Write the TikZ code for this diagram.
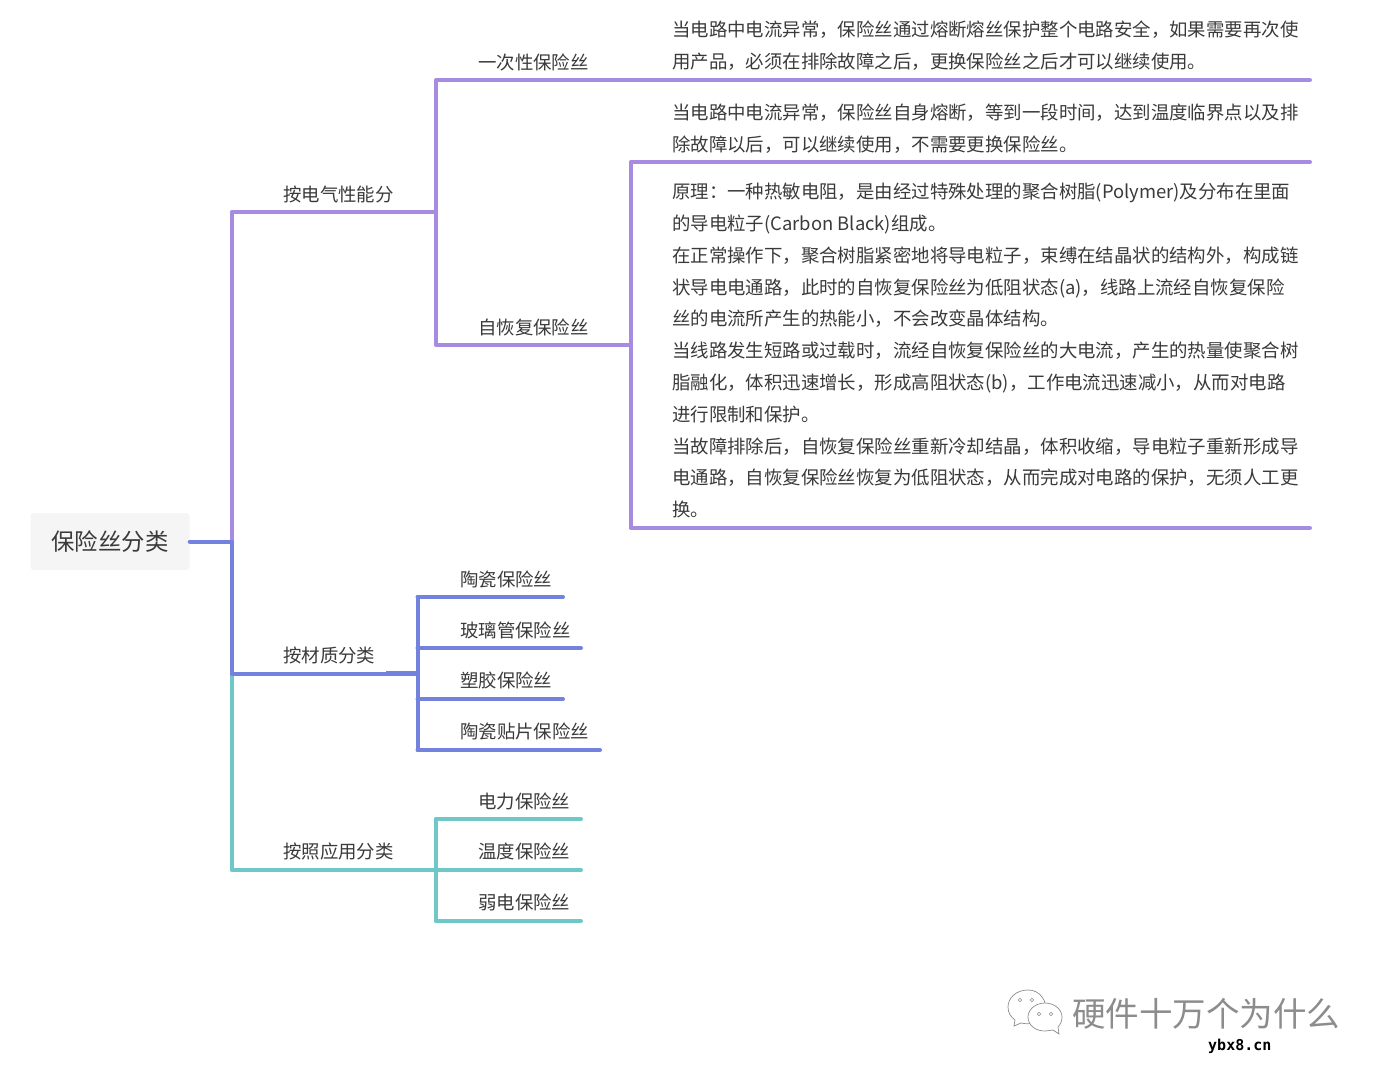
\documentclass[tikz,border=0pt]{standalone}
\usepackage{fontspec}
\setmainfont{Noto Sans CJK SC}
\newfontfamily\markfont{DejaVu Sans Mono}
\usetikzlibrary{positioning, calc}
\definecolor{textgray}{HTML}{3A3A3A}
\definecolor{lilac}{HTML}{A78BE0}
\definecolor{steel}{HTML}{7383DD}
\definecolor{teal}{HTML}{6FC7C7}
\tikzset{
	rootbox/.style={fill=black!4, rounded corners=3pt, minimum width=159pt, minimum height=57pt, inner sep=0pt, text=textgray, font=\fontsize{23.4}{28}\selectfont},
	label/.style={anchor=west, inner sep=0pt, text=textgray, font=\fontsize{18.42}{22}\selectfont},
	body/.style={anchor=west, inner sep=0pt, align=left, text=textgray, font=\fontsize{18.42}{31.8}\selectfont},
	branch/.style={line width=4pt, line cap=round, line join=round},
	bubble/.style={draw=black!45, fill=white, line width=0.7pt},
}

\begin{document}
\begin{tikzpicture}[x=1pt, y=-1pt]
	\useasboundingbox (0,0) rectangle (1387,1076);
	% tree points
	\node[rootbox] (root) at (110,541.5) {保险丝分类};
	\coordinate (hub) at (231.5,541.5);
	\coordinate (elec) at (436,212);
	\coordinate (mat) at (417.5,673.5);
	\coordinate (matstub) at (386,673.5);
	\coordinate (app) at (436,870);
	\coordinate (self) at (630.5,345);
	\coordinate (once) at (436,80);
	\coordinate (onceend) at (1310,80);
	\coordinate (selftop) at (630.5,162);
	\coordinate (selftopend) at (1310,162);
	\coordinate (selfbot) at (630.5,528);
	\coordinate (selfbotend) at (1310,528);

	% connectors, back to front
	\draw[branch, lilac] (hub) -- (hub |- elec) -- (elec);
	\draw[branch, teal] (hub |- mat) -- (hub |- app) -- (app);
	\draw[branch, steel] (root.east) -- (hub) -- (hub |- mat) -- (mat);
	\draw[branch, steel, line width=4.8pt, line cap=butt] (matstub) -- (mat);
	\draw[branch, lilac] (onceend) -- (once) -- (once |- self) -- (self);
	\draw[branch, lilac] (selftopend) -- (selftop) -- (selfbot) -- (selfbotend);

	\foreach \ypos/\xend in {597/563, 648/581, 699/563, 750/600}
		\draw[branch, steel] (mat |- 0,\ypos) -- (\xend,\ypos);
	\draw[branch, steel] (mat |- 0,597) -- (mat |- 0,750);
	\foreach \ypos in {819, 870, 921}
		\draw[branch, teal] (app |- 0,\ypos) -- (581,\ypos);
	\draw[branch, teal] (app |- 0,819) -- (app |- 0,921);

	% first level
	\node[label] (elecname) at (283,194) {按电气性能分};
	\node[label] (matname) at (283,655) {按材质分类};
	\node[label] (appname) at (283,851) {按照应用分类};

	% second level
	\node[label] (oncename) at (478,62) {一次性保险丝};
	\node[label] (selfname) at (478,327) {自恢复保险丝};
	\node[label] (ceramic) at (460,579) {陶瓷保险丝};
	\node[label] (glass) at (460,630) {玻璃管保险丝};
	\node[label] (plastic) at (460,680) {塑胶保险丝};
	\node[label] (smd) at (460,731) {陶瓷贴片保险丝};
	\node[label] (power) at (478,801) {电力保险丝};
	\node[label] (thermal) at (478,851) {温度保险丝};
	\node[label] (weak) at (478,902) {弱电保险丝};

	% long notes
	\node[body] (oncenote) at (672,46) {当电路中电流异常，保险丝通过熔断熔丝保护整个电路安全，如果需要再次使\\用产品，必须在排除故障之后，更换保险丝之后才可以继续使用。};
	\node[body] (selfnote) at (672,128.5) {当电路中电流异常，保险丝自身熔断，等到一段时间，达到温度临界点以及排\\除故障以后，可以继续使用，不需要更换保险丝。};
	\node[body] (detail) at (672,350.7) {原理：一种热敏电阻，是由经过特殊处理的聚合树脂(Polymer)及分布在里面\\的导电粒子(Carbon Black)组成。\\在正常操作下，聚合树脂紧密地将导电粒子，束缚在结晶状的结构外，构成链\\状导电电通路，此时的自恢复保险丝为低阻状态(a)，线路上流经自恢复保险\\丝的电流所产生的热能小，不会改变晶体结构。\\当线路发生短路或过载时，流经自恢复保险丝的大电流，产生的热量使聚合树\\脂融化，体积迅速增长，形成高阻状态(b)，工作电流迅速减小，从而对电路\\进行限制和保护。\\当故障排除后，自恢复保险丝重新冷却结晶，体积收缩，导电粒子重新形成导\\电通路，自恢复保险丝恢复为低阻状态，从而完成对电路的保护，无须人工更\\换。};

	% watermark
	\draw[bubble] (1028,990) .. controls (1016,990) and (1008,998) .. (1008,1007) .. controls (1008,1013) and (1011,1017) .. (1015,1020) -- (1014,1026) -- (1021,1023) .. controls (1030,1025) and (1040,1023) .. (1047,1015) .. controls (1047,1000) and (1040,990) .. (1028,990) -- cycle;
	\draw[bubble] (1045,1003) .. controls (1035,1003) and (1028,1010) .. (1028,1017) .. controls (1028,1025) and (1035,1031) .. (1045,1031) .. controls (1048,1031) and (1051,1030) .. (1053,1030) -- (1059,1034) -- (1058,1027) .. controls (1061,1024) and (1062,1020) .. (1062,1017) .. controls (1062,1010) and (1055,1003) .. (1045,1003) -- cycle;
	\foreach \xpos/\ypos in {1020/1000, 1032/1000, 1039/1014, 1051/1014}
		\draw[black!45, line width=0.5pt] (\xpos,\ypos) circle[radius=1.7];
	\node[anchor=west, inner sep=0pt, text=black!45, font=\fontsize{33.5}{38}\selectfont] (brand) at (1072,1014) {硬件十万个为什么};
	\node[anchor=west, inner sep=0pt, text=black, font=\fontsize{15}{18}\markfont\bfseries] (site) at (1208,1046) {ybx8.cn};
\end{tikzpicture}
\end{document}
